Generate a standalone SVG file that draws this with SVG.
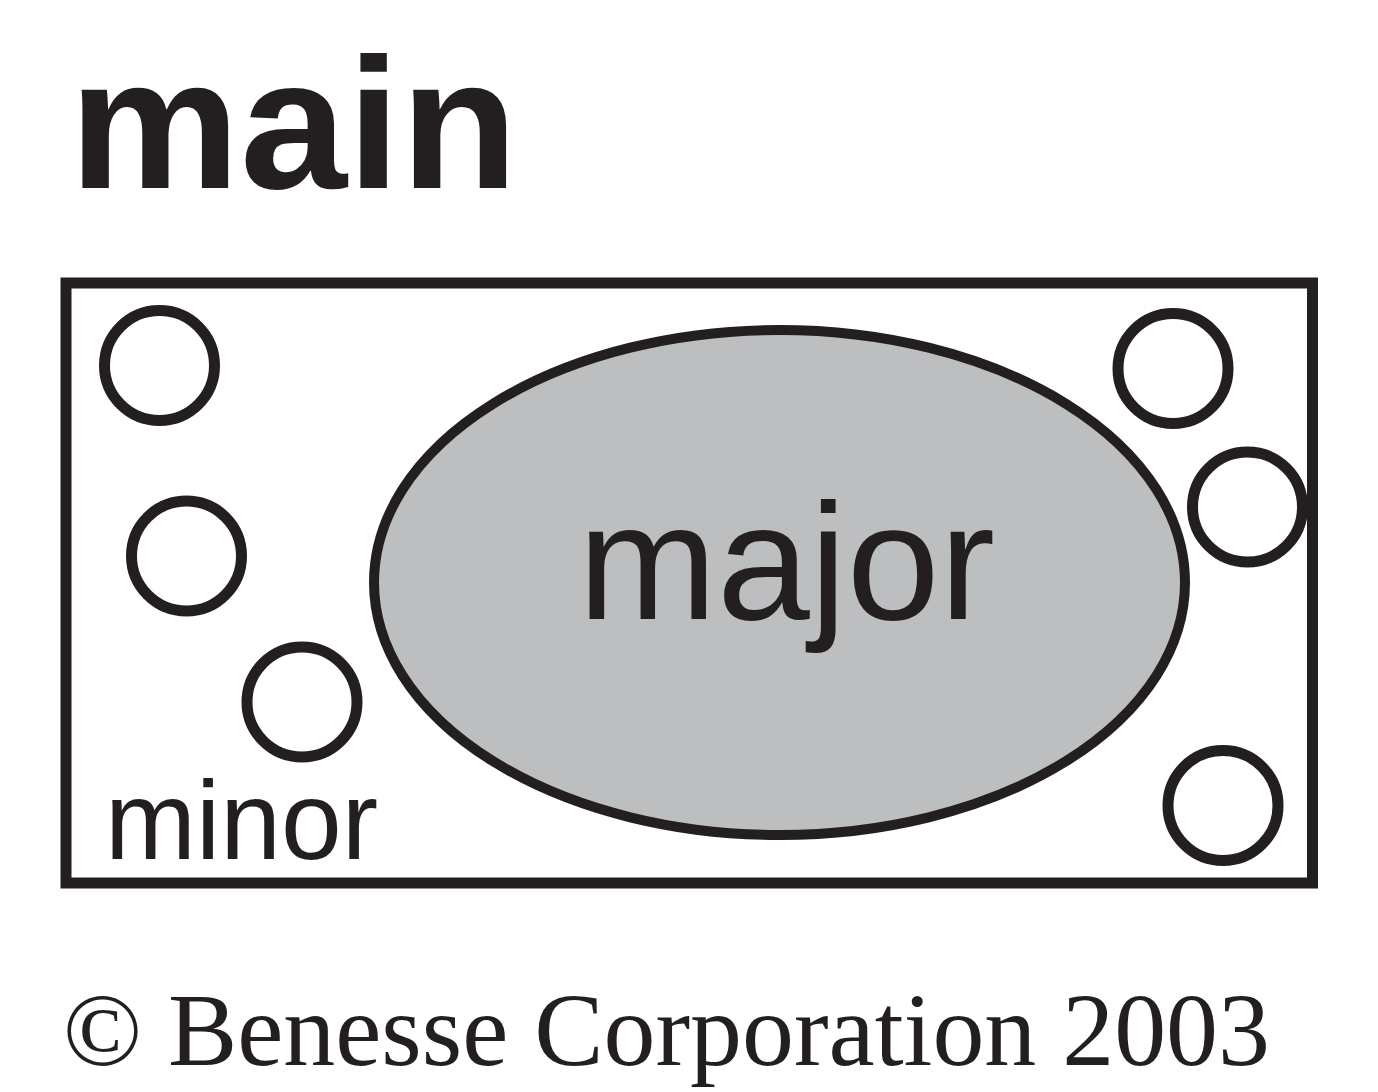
<svg xmlns="http://www.w3.org/2000/svg" width="1378" height="1092" viewBox="0 0 1378 1092">
<style>
.ln{fill:none;stroke:#231f20}
.sm{fill:#ffffff;stroke:#231f20;stroke-width:11}
.sans{font-family:"Liberation Sans",Arial,sans-serif;fill:#231f20}
</style>
<rect width="1378" height="1092" fill="#ffffff"/>
<text id="title" class="sans" x="69" y="188" font-size="186" font-weight="bold" textLength="449" lengthAdjust="spacingAndGlyphs">main</text>
<g id="frame"><rect class="ln" x="66" y="283" width="1246.5" height="600" stroke-width="11"/></g>
<g id="major">
<ellipse cx="779.5" cy="582.5" rx="405.5" ry="252.5" fill="#bcbec0" stroke="#231f20" stroke-width="10"/>
<text class="sans" x="578" y="619" font-size="166" textLength="417" lengthAdjust="spacingAndGlyphs">major</text>
</g>
<g id="minor-circles">
<circle id="m1" class="sm" cx="159.5" cy="365.5" r="55"/>
<circle id="m2" class="sm" cx="186.5" cy="556" r="55"/>
<circle id="m3" class="sm" cx="302" cy="702" r="55"/>
<circle id="m4" class="sm" cx="1173" cy="368.5" r="55"/>
<circle id="m5" class="sm" cx="1247.5" cy="507" r="55"/>
<circle id="m6" class="sm" cx="1223" cy="805.5" r="55"/>
</g>
<text id="minor-label" class="sans" x="105" y="859" font-size="112" textLength="273" lengthAdjust="spacingAndGlyphs">minor</text>
<g id="connectors"/>
<text id="copyright" x="63" y="1065" font-family="'Liberation Serif','Times New Roman',serif" font-size="104" fill="#231f20" textLength="1207" lengthAdjust="spacingAndGlyphs">© Benesse Corporation 2003</text>
</svg>
